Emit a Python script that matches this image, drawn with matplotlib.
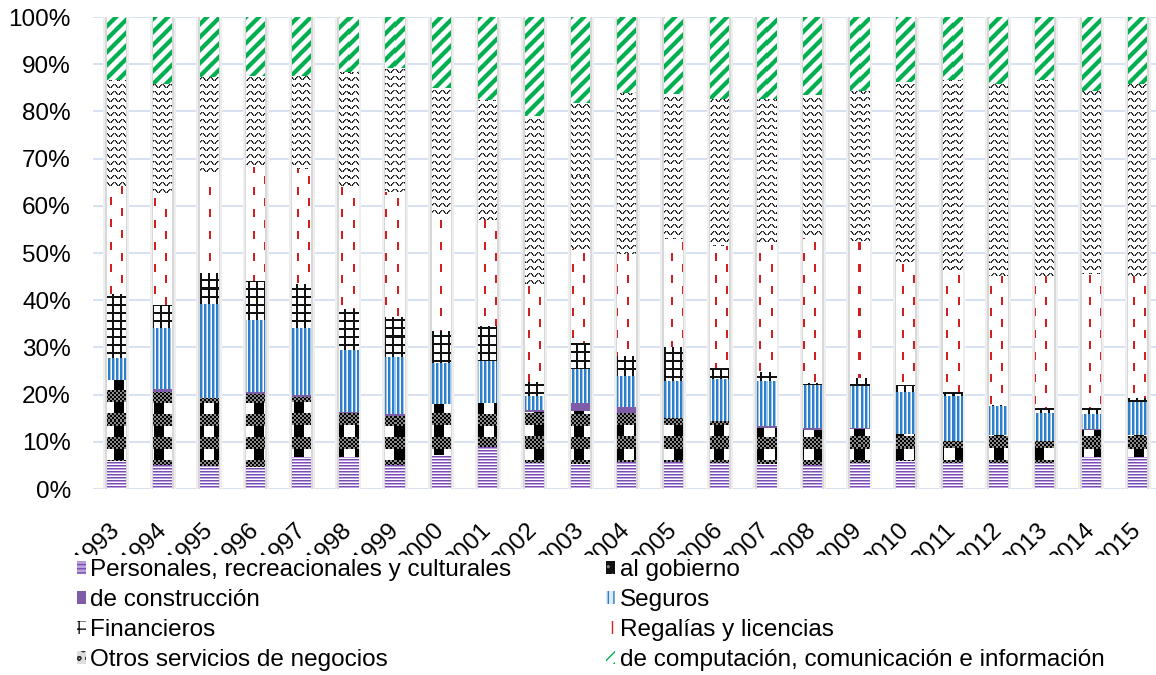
import numpy as np
import matplotlib
matplotlib.use("Agg")
import matplotlib.pyplot as plt
from matplotlib.colors import to_rgb
from matplotlib.patches import Patch
from matplotlib.transforms import Bbox

plt.rcParams['font.family'] = ['Liberation Sans', 'DejaVu Sans']

# shares (%)
years = [str(y) for y in range(1993, 2016)]
personales = [6.0, 5.1, 4.8, 4.6, 6.7, 6.7, 5.1, 7.2, 8.8, 5.5, 5.3, 5.8, 5.8, 5.5, 5.3, 5.1, 5.6, 6.0, 5.5, 5.6, 5.6, 6.7, 6.7]
gobierno = [17.1, 15.5, 14.5, 15.5, 12.8, 9.5, 10.4, 10.8, 9.4, 10.9, 11.2, 10.4, 9.2, 9.0, 7.7, 7.5, 7.1, 5.6, 4.7, 5.8, 4.6, 5.9, 4.7]
construccion = [0.0, 0.6, 0.0, 0.4, 0.4, 0.2, 0.4, 0.0, 0.0, 0.4, 1.7, 1.1, 0.0, 0.0, 0.4, 0.3, 0.3, 0.0, 0.0, 0.0, 0.0, 0.1, 0.0]
seguros = [4.6, 12.9, 19.8, 15.3, 14.2, 13.0, 12.1, 8.6, 9.0, 2.9, 7.2, 6.7, 7.9, 8.8, 9.5, 9.2, 8.9, 9.0, 9.5, 6.2, 6.0, 3.2, 7.0]
financieros = [13.6, 4.8, 6.6, 8.3, 9.3, 8.8, 8.5, 6.9, 7.4, 2.9, 5.5, 4.2, 7.1, 2.4, 1.9, 0.3, 1.7, 1.5, 0.8, 0.3, 0.9, 1.2, 0.9]
regalias = [22.9, 23.3, 21.1, 24.1, 24.5, 26.0, 26.4, 24.3, 22.4, 20.8, 19.9, 21.5, 22.9, 25.8, 26.8, 30.8, 28.9, 26.0, 25.3, 27.2, 28.0, 28.4, 25.8]
otros = [22.5, 23.5, 20.5, 19.4, 19.5, 24.1, 26.2, 27.2, 25.5, 35.6, 31.0, 34.2, 30.8, 31.2, 31.1, 30.2, 31.8, 38.1, 40.8, 40.8, 41.6, 38.9, 40.6]
computacion = [13.3, 14.3, 12.7, 12.4, 12.6, 11.7, 10.9, 15.0, 17.5, 21.0, 18.2, 16.1, 16.3, 17.3, 17.3, 16.6, 15.7, 13.8, 13.4, 14.1, 13.3, 15.6, 14.3]

labels = ["Personales, recreacionales y culturales", "al gobierno", "de construcción", "Seguros",
          "Financieros", "Regalías y licencias", "Otros servicios de negocios",
          "de computación, comunicación e información"]
series = [personales, gobierno, construccion, seguros, financieros, regalias, otros, computacion]


# --- excel-like pattern tiles (pixel indices into a palette) ---
def pal(*cols):
    return np.array([to_rgb(c) for c in cols])

def from_rows(rows):
    return np.array([[int(ch) for ch in r.replace(".", "0")] for r in rows])

t_pers = from_rows(["1", "2", "0"])

t_gob = np.zeros((23, 20), int)
rr, cc = np.mgrid[0:12, 0:20]
t_gob[0:12] = np.where((rr // 2 + cc // 2) % 2 == 0, 1, 2)
t_gob[12:23, 0:4] = 1
t_gob[12:23, 14:20] = 1

t_seg = from_rows(["1120"])

t_fin = np.zeros((8, 8), int)
t_fin[0:2, :] = 1
t_fin[:, 0:2] = 1

t_reg = np.zeros((22, 22), int)
t_reg[0:8, 0:2] = 1
t_reg[11:19, 11:13] = 1

t_otr = from_rows([".121....",
                   "12.21...",
                   "2...12.1",
                   ".....121",
                   "........",
                   "........",
                   "........"])

r13, c13 = np.mgrid[0:13, 0:13]
d13 = (r13 + c13) % 13
t_comp = np.where(d13 < 5, 1, np.where((d13 == 5) | (d13 == 12), 2, 0))

t_solid = np.ones((1, 1), int)

fills = [
    (t_pers, pal('#FFFFFF', '#7B4DB4', '#BBA2DC')),
    (t_gob, pal('#FFFFFF', '#000000', '#8A8A8A')),
    (t_solid, pal('#FFFFFF', '#7E5CA8')),
    (t_seg, pal('#FFFFFF', '#2D7FCC', '#9CC8EE')),
    (t_fin, pal('#FFFFFF', '#111111')),
    (t_reg, pal('#FFFFFF', '#D21F1F')),
    (t_otr, pal('#FFFFFF', '#1A1A1A', '#7A7A7A')),
    (t_comp, pal('#FFFFFF', '#00B050', '#80D8A8')),
]

W, H = 1156, 675
fig = plt.figure(figsize=(W / 100, H / 100), dpi=100)
ax = fig.add_axes([93 / W, 1 - 489 / H, (1161 - 93) / W, 472 / H])
ax.set_autoscale_on(False)
ax.set_xlim(-0.5, len(years) - 0.5)
ax.set_ylim(0, 100)

x = np.arange(len(years))
step = ax.transData.transform([(1, 0)])[0][0] - ax.transData.transform([(0, 0)])[0][0]
bw = 19 / step
totals = np.sum(series, axis=0)

# soft shadow around the columns
ax.bar(x, totals, width=bw + 7 / step, color='#EEEEEE', linewidth=0, zorder=2)
ax.bar(x, totals, width=bw + 3 / step, color='#D8D8D8', linewidth=0, zorder=2)


def fill_bar(rect, tile, palette):
    x0, y0 = rect.get_x(), rect.get_y()
    x1, y1 = x0 + rect.get_width(), y0 + rect.get_height()
    (px0, py0), (px1, py1) = np.round(ax.transData.transform([(x0, y0), (x1, y1)])).astype(int)
    if py1 - py0 < 1 or px1 - px0 < 1:
        return
    rows = H - py1 + np.arange(py1 - py0)
    cols = px0 + np.arange(px1 - px0)
    img = palette[tile[np.ix_(rows % tile.shape[0], cols % tile.shape[1])]]
    (dx0, dy0), (dx1, dy1) = ax.transData.inverted().transform([(px0, py0), (px1, py1)])
    ax.imshow(img, extent=(dx0, dx1, dy0, dy1), origin='upper', interpolation='nearest',
              aspect='auto', zorder=3)


bottom = np.zeros(len(years))
for vals, (tile, palette) in zip(series, fills):
    bars = ax.bar(x, vals, bottom=bottom, width=bw, color='white', linewidth=0, zorder=3)
    for rect in bars:
        fill_bar(rect, tile, palette)
    bottom += np.array(vals)

ax.set_xlim(-0.5, len(years) - 0.5)
ax.set_ylim(0, 100)

# axes styling
for s in ax.spines.values():
    s.set_visible(False)
ax.set_yticks(range(0, 101, 10), [f"{v}%" for v in range(0, 101, 10)])
ax.yaxis.grid(True, color='#D3DEF0', linewidth=1.3)
ax.set_axisbelow(True)
ax.tick_params(axis='y', length=0, labelsize=17.5, pad=16)
ax.set_xticks(x, years, rotation=45, ha='right', rotation_mode='anchor', va='center')
ax.tick_params(axis='x', length=0, labelsize=17.5, pad=27)
clip = Bbox.from_extents(0, H - 555, W, H)
for lbl in ax.get_xticklabels():
    lbl.set_clip_on(True)
    lbl.set_clip_box(clip)

# legend with small pattern markers
handle_styles = [
    dict(facecolor='#BBA2DC', edgecolor='#7B4DB4', hatch='----'),
    dict(facecolor='#111111', edgecolor='#888888', hatch='..'),
    dict(facecolor='#7E5CA8', edgecolor='#7E5CA8'),
    dict(facecolor='#DDEBF8', edgecolor='#2D7FCC', hatch='|||'),
    dict(facecolor='white', edgecolor='#111111', hatch='++'),
    dict(facecolor='white', edgecolor='#D21F1F', hatch='||'),
    dict(facecolor='#DDDDDD', edgecolor='#333333', hatch='oo'),
    dict(facecolor='white', edgecolor='#00B050', hatch='///'),
]
handles = [Patch(linewidth=0, **st) for st in handle_styles]
order = [0, 2, 4, 6, 1, 3, 5, 7]
fig.legend([handles[i] for i in order], [labels[i] for i in order], ncol=2,
           loc='upper left', bbox_to_anchor=(77 / W, 1 - 559 / H), frameon=False,
           fontsize=17.5, borderpad=0, borderaxespad=0, handlelength=0.35, handleheight=0.45,
           handletextpad=0.2, columnspacing=3.9, labelspacing=0.33)

fig.savefig("out.png", dpi=100)
